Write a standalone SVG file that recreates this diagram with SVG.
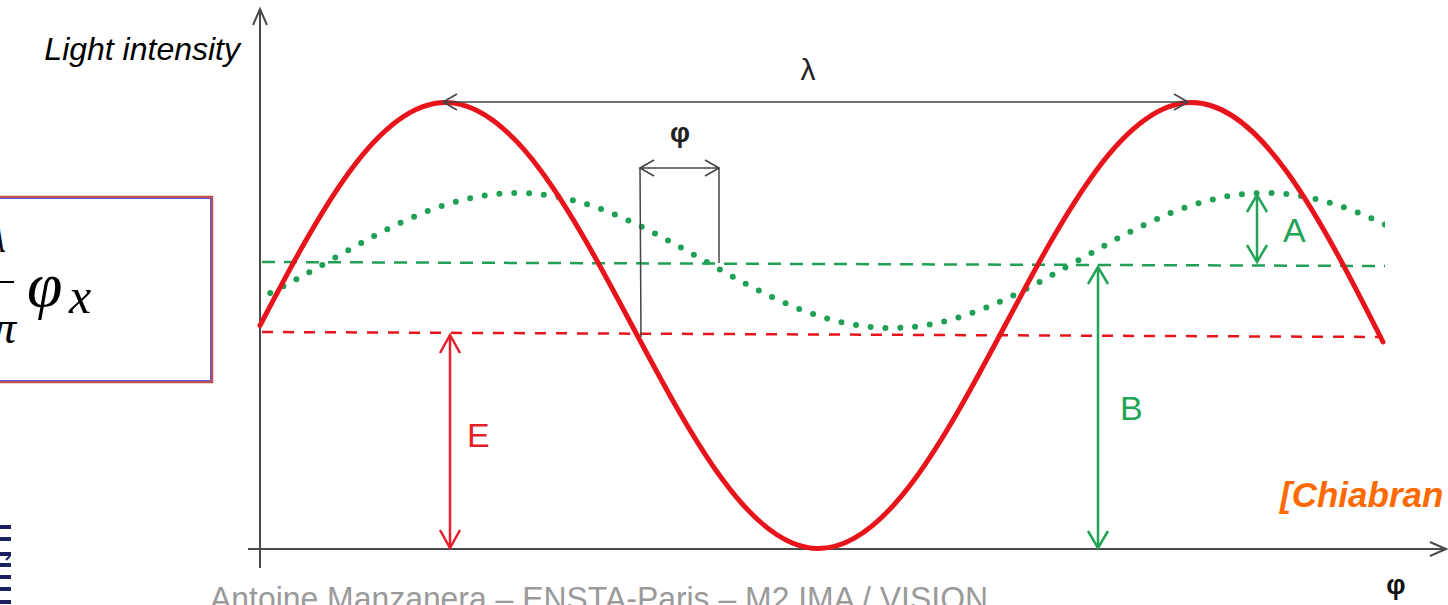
<svg xmlns="http://www.w3.org/2000/svg" width="1448" height="605" viewBox="0 0 1448 605">
<style>
.sans{font-family:"Liberation Sans",Arial,sans-serif}
.math{font-family:"Liberation Serif","Times New Roman",serif;font-style:italic;fill:#000}
.axis{stroke:#4a4a4a;stroke-width:2;fill:none}
.dim{stroke:#444;stroke-width:1.5;fill:none}
.red{stroke:#e8141c;fill:none}
.green{stroke:#1fa055;fill:none}
.lblR{fill:#e41e2a;font-size:34px}
.lblG{fill:#22a356;font-size:34px}
</style>
<defs>
<marker id="mAxis" markerUnits="userSpaceOnUse" orient="auto-start-reverse" refX="0" refY="0" markerWidth="20" markerHeight="20" overflow="visible"><path d="M-16,-7 L0,0 L-16,7" fill="none" stroke="#4a4a4a" stroke-width="2"/></marker>
<marker id="mGray" markerUnits="userSpaceOnUse" orient="auto-start-reverse" refX="0" refY="0" markerWidth="20" markerHeight="20" overflow="visible"><path d="M-14,-8 L0,0 L-14,8" fill="none" stroke="#444" stroke-width="1.6"/></marker>
<marker id="mRed" markerUnits="userSpaceOnUse" orient="auto-start-reverse" refX="0" refY="0" markerWidth="24" markerHeight="24" overflow="visible"><path d="M-18,-10 L0,0 L-18,10" fill="none" stroke="#e41e2a" stroke-width="2.5"/></marker>
<marker id="mGreen" markerUnits="userSpaceOnUse" orient="auto-start-reverse" refX="0" refY="0" markerWidth="24" markerHeight="24" overflow="visible"><path d="M-17,-10 L0,0 L-17,10" fill="none" stroke="#22a356" stroke-width="2.5"/></marker>
<clipPath id="plotClip"><rect x="261" y="0" width="1124" height="605"/></clipPath>
</defs>
<rect width="1448" height="605" fill="#fff"/>

<g id="formula-box">
<rect x="-5" y="197" width="217" height="185" fill="#fff" stroke="#c0504d" stroke-width="2.5"/>
<rect x="-4" y="198.5" width="214.5" height="182" fill="none" stroke="#5a5ae6" stroke-width="1"/>
<text class="math" x="6" y="252" font-size="44" text-anchor="end">λ</text>
<line x1="-4" y1="282" x2="14" y2="282" stroke="#000" stroke-width="2"/>
<text class="math" x="16" y="343" font-size="46" text-anchor="end">2π</text>
<text class="math" x="27" y="306" font-size="64">φ</text>
<text class="math" x="69" y="313" font-size="50">x</text>
</g>

<g id="logo" fill="#1c2060">
<rect x="0" y="525" width="11" height="4"/>
<rect x="0" y="537" width="11" height="4"/>
<rect x="0" y="552" width="11" height="4"/>
<rect x="0" y="563" width="11" height="4"/>
<path d="M6,560 L10,556" stroke="#1c2060" stroke-width="2"/>
<rect x="0" y="575" width="11" height="4"/>
<rect x="0" y="587" width="11" height="4"/>
<rect x="0" y="600" width="11" height="4"/>
</g>

<g id="axes">
<line class="axis" x1="260" y1="568" x2="260" y2="9" marker-end="url(#mAxis)"/>
<line class="axis" x1="248" y1="549" x2="1446" y2="549" marker-end="url(#mAxis)"/>
<text id="y-label" class="sans" x="240" y="60" font-size="32" font-style="italic" fill="#000" text-anchor="end">Light intensity</text>
<text id="x-label" class="sans" x="1396" y="594" font-size="27" font-weight="bold" fill="#111" text-anchor="middle">φ</text>
</g>

<g id="curves">
<line id="E-level" class="red" x1="262" y1="332" x2="1383" y2="337" stroke-width="2.5" stroke-dasharray="11 10" stroke="#e8334a"/>
<line id="B-level" class="green" x1="262" y1="262" x2="1385" y2="266" stroke-width="2.5" stroke-dasharray="13 9" stroke="#1f9a50"/>
<path id="green-wave" class="green" clip-path="url(#plotClip)" stroke-width="6" stroke-linecap="round" stroke-dasharray="0 14.8" d="M143,328 C210.7,328 269,295.1 330,260.5 C391,225.9 449.3,193 517,193 C584.7,193 643,225.9 704,260.5 C765,295.1 823.3,328 891,328 C958.7,328 1017,295.1 1078,260.5 C1139,225.9 1197.3,193 1265,193 C1332.7,193 1391,225.9 1452,260.5"/>
<path id="red-wave" class="red" stroke-width="5" stroke-linecap="round" stroke-linejoin="round" d="M260,325.5 C319.8,211.3 378,102.5 445.5,102.5 C513,102.5 571.2,211.3 632,325.5 C692.8,439.7 751,548.5 818.5,548.5 C886,548.5 944.2,439.7 1005,325.5 C1065.8,211.3 1124,102.5 1191.5,102.5 C1259,102.5 1317.2,211.3 1383,342"/>
</g>

<g id="connectors">
<line id="lambda-dim" class="dim" x1="443" y1="102" x2="1188" y2="102" marker-start="url(#mGray)" marker-end="url(#mGray)"/>
<line class="dim" x1="640" y1="168" x2="641" y2="337"/>
<line class="dim" x1="719" y1="168" x2="719" y2="263"/>
<line id="phi-dim" class="dim" x1="640" y1="168" x2="719" y2="168" marker-start="url(#mGray)" marker-end="url(#mGray)"/>
<line id="E-dim" x1="450" y1="335" x2="450" y2="548" stroke="#e41e2a" stroke-width="2.5" marker-start="url(#mRed)" marker-end="url(#mRed)"/>
<line id="B-dim" x1="1098" y1="267" x2="1098" y2="548" stroke="#22a356" stroke-width="2.5" marker-start="url(#mGreen)" marker-end="url(#mGreen)"/>
<line id="A-dim" x1="1257" y1="195" x2="1257" y2="262" stroke="#22a356" stroke-width="2.5" marker-start="url(#mGreen)" marker-end="url(#mGreen)"/>
</g>

<g id="labels">
<text id="lambda" class="sans" x="808" y="80" font-size="30" fill="#222" text-anchor="middle">λ</text>
<text id="phi" class="sans" x="680" y="142" font-size="28" font-weight="bold" fill="#222" text-anchor="middle">φ</text>
<text id="E" class="sans lblR" x="467" y="447">E</text>
<text id="B" class="sans lblG" x="1120" y="420">B</text>
<text id="A" class="sans lblG" x="1283" y="242">A</text>
<text id="citation" class="sans" x="1280" y="507" font-size="35" font-style="italic" font-weight="bold" fill="#ff6a00">[Chiabran</text>
</g>

<g id="footer">
<text class="sans" x="210" y="610" font-size="34" fill="#9a9a9a" textLength="778" lengthAdjust="spacingAndGlyphs">Antoine Manzanera – ENSTA-Paris – M2 IMA / VISION</text>
</g>
</svg>
